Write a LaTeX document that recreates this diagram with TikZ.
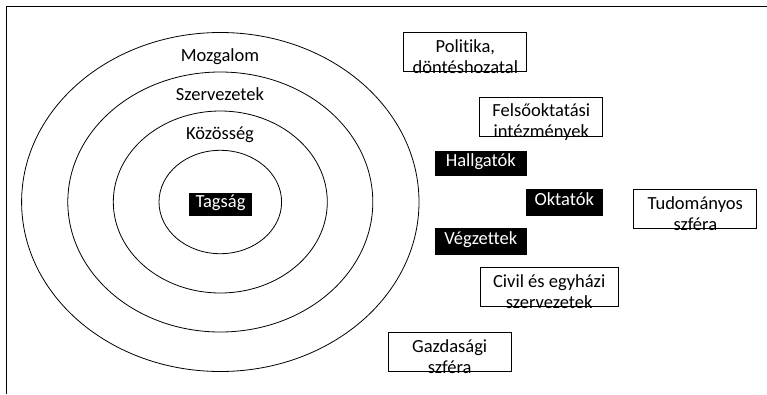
\documentclass[tikz,border=0pt]{standalone}
\usepackage{fontspec}
\setmainfont{Carlito}[Ligatures=NoCommon]
\begin{document}
\begin{tikzpicture}[x=1pt,y=-1pt,
		gyuru/.style={draw,line width=0.8pt},
		betu/.style={font=\fontsize{18.5}{21}\selectfont},
		keret/.style={draw,line width=1pt,inner sep=0pt},
		felirat/.style={betu,align=center,inner sep=0pt},
		fekete/.style={betu,fill=black,text=white,inner sep=0pt,text height=12pt,text depth=6pt}]
		\useasboundingbox (0,0) rectangle (767,394);
		\draw[line width=1pt] (767,6) -- (6,6) -- (6,394);
		% korok
		\coordinate (kozep) at (220.3,202);
		\foreach \rx/\ry in {198.7/169.5,152.5/130,107/91,61.3/51.7}
			\draw[gyuru] (kozep) ellipse [x radius=\rx, y radius=\ry];
		\node[felirat,anchor=base] (mozg) at (220,61) {Mozgalom};
		\node[felirat,anchor=base] (szerv) at (220,100) {Szervezetek};
		\node[felirat,anchor=base] (koz) at (220,139.5) {Közösség};
		\node[fekete,minimum width=62.4pt,minimum height=23pt] (tag) at (220.5,204.4) {Tagság};
		% fekete dobozok
		\node[fekete,minimum width=91.7pt,minimum height=25.3pt] (hal) at (480.8,163.3) {Hallgatók};
		\node[fekete,minimum width=76.7pt,minimum height=26.4pt] (okt) at (564.3,202.5) {Oktatók};
		\node[fekete,minimum width=91.7pt,minimum height=26.7pt] (veg) at (480.8,241.6) {Végzettek};
		% keretes dobozok
		\node[keret,minimum width=122.7pt,minimum height=38.7pt] (pol) at (465.3,51.7) {};
		\node[felirat,yshift=-5pt] (pol-sz) at (pol) {Politika,\\döntéshozatal};
		\node[keret,minimum width=122.7pt,minimum height=39pt] (fel) at (541.3,117.2) {};
		\node[felirat,yshift=-5pt] (fel-sz) at (fel) {Felsőoktatási\\intézmények};
		\node[keret,minimum width=122.7pt,minimum height=39pt] (tud) at (695.3,208.5) {};
		\node[felirat,yshift=-5pt] (tud-sz) at (tud) {Tudományos\\szféra};
		\node[keret,minimum width=138.3pt,minimum height=39.4pt] (civ) at (549.2,287) {};
		\node[felirat,yshift=-5pt] (civ-sz) at (civ) {Civil és egyházi\\szervezetek};
		\node[keret,minimum width=122.7pt,minimum height=39.4pt] (gaz) at (449.7,352) {};
		\node[felirat,yshift=-5pt] (gaz-sz) at (gaz) {Gazdasági\\szféra};
	\end{tikzpicture}
\end{document}
